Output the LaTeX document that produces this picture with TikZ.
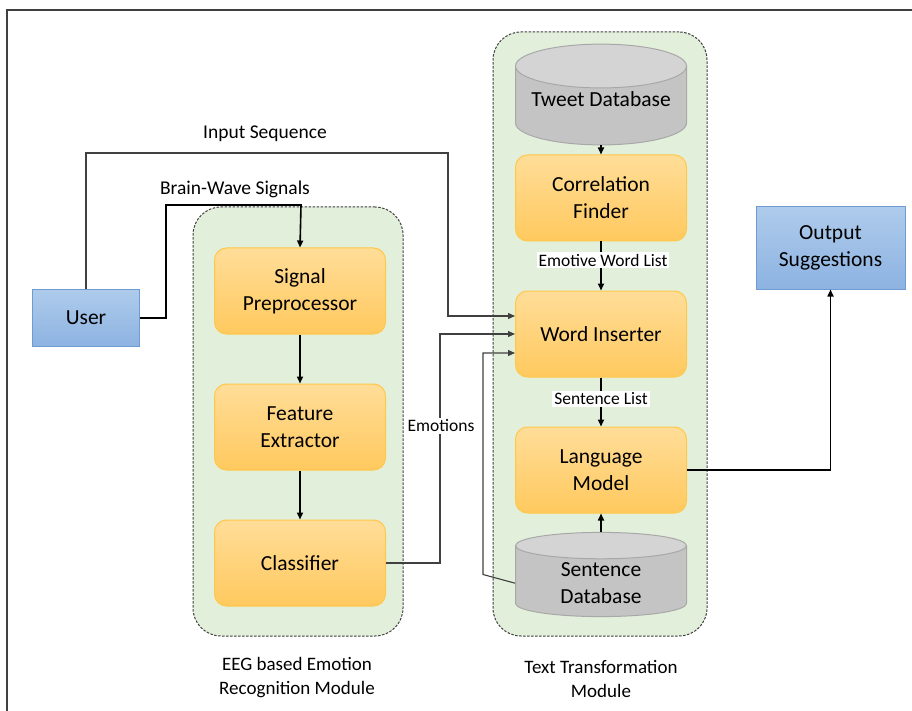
\documentclass[tikz,border=0pt]{standalone}
\usepackage{fontspec}
\setmainfont{Carlito}
\usepackage{xcolor}
\usepackage{tikz}
\usetikzlibrary{shapes.geometric, arrows.meta}

\definecolor{orangetop}{HTML}{FFDD98}
\definecolor{orangebot}{HTML}{FFC95E}
\definecolor{orangeedge}{HTML}{FFC84A}
\definecolor{bluetop}{HTML}{AECBEB}
\definecolor{bluebot}{HTML}{8DB3E2}
\definecolor{blueedge}{HTML}{6E9BD2}
\definecolor{modulegreen}{HTML}{E2EFDA}
\definecolor{dbbody}{HTML}{C4C4C4}
\definecolor{dbtop}{HTML}{D4D4D4}
\definecolor{dbedge}{HTML}{A8A8A8}
\definecolor{thinline}{HTML}{404040}

\begin{document}
\begin{tikzpicture}[x=1pt, y=-1pt, >={Triangle[length=7pt,width=6pt]},
procnode/.style={rounded corners=12pt, draw=orangeedge, line width=1pt, top color=orangetop, bottom color=orangebot, minimum width=171pt, minimum height=86pt, align=center, font=\fontsize{21.5}{27}\selectfont},
ionode/.style={draw=blueedge, line width=1pt, top color=bluetop, bottom color=bluebot, align=center, font=\fontsize{21.5}{27}\selectfont},
dbnode/.style={cylinder, shape border rotate=90, shape aspect=0.3, anchor=shape center, draw=dbedge, line width=1pt, cylinder uses custom fill, cylinder body fill=dbbody, cylinder end fill=dbtop, minimum width=171pt, minimum height=74pt, align=center, font=\fontsize{21.5}{27}\selectfont},
modulebox/.style={rounded corners=28pt, draw=thinline, line width=1pt, dash pattern=on 2.5pt off 1.5pt, fill=modulegreen},
flowlabel/.style={font=\fontsize{19.5}{23}\selectfont},
linklabel/.style={fill=white, inner sep=2pt, font=\fontsize{17.5}{21}\selectfont},
modulelabel/.style={align=center, font=\fontsize{19}{24}\selectfont},
thinarrow/.style={->, thinline, line width=1.1pt},
thickarrow/.style={->, black, line width=1.6pt},
]
\useasboundingbox (0,0) rectangle (912,711);
\draw[thinline, line width=1.2pt] (7,711) -- (7,10) -- (912,10);

%Modules
\node[modulebox, minimum width=210pt, minimum height=429pt] (eegmodule) at (298,421.5) {};
\node[modulebox, minimum width=214pt, minimum height=604pt] (textmodule) at (600,334) {};

%Nodes
\node[ionode, minimum width=107pt, minimum height=57pt] (user) at (86,318) {User};
\node[ionode, minimum width=149pt, minimum height=82pt] (output) at (830.5,248) {Output\\Suggestions};
\node[procnode] (sigpre) at (300,291) {Signal\\Preprocessor};
\node[procnode] (featext) at (300,427) {Feature\\Extractor};
\node[procnode] (classifier) at (300,563) {Classifier};
\node[dbnode, text depth=19pt] (tweetdb) at (601,94.5) {Tweet Database};
\node[procnode] (corrfinder) at (601,198) {Correlation\\Finder};
\node[procnode] (inserter) at (601,334) {Word Inserter};
\node[procnode] (langmodel) at (601,470) {Language\\Model};
\node[dbnode] (sentdb) at (601,574.5) {Sentence\\Database};

%Lines
\draw[thinarrow] (user.north) |- (448,153) |- ([yshift=18pt]inserter.west);
\draw[thickarrow] (user.east) -- (166,318) |- (301,205) -- (sigpre.north);
\draw[thickarrow] (sigpre.south) -- (featext.north);
\draw[thickarrow] (featext.south) -- (classifier.north);
\draw[thinarrow] (classifier.east) -- (440,563) |- (inserter.west);
\draw[thinarrow] (sentdb.west) -- (483,574.5) |- ([yshift=-19pt]inserter.west);
\draw[thickarrow] (tweetdb.south) -- (corrfinder.north);
\draw[thickarrow] (corrfinder.south) -- (inserter.north);
\draw[thickarrow] (inserter.south) -- (langmodel.north);
\draw[thickarrow] (sentdb.north) -- (langmodel.south);
\draw[thickarrow] (langmodel.east) -| (output.south);

%Labels
\node[flowlabel] (inputlbl) at (265,134) {Input Sequence};
\node[flowlabel] (brainlbl) at (235,189) {Brain-Wave Signals};
\node[linklabel] (emolbl) at (441,426) {Emotions};
\node[linklabel] (wordlistlbl) at (603,260) {Emotive Word List};
\node[linklabel] (sentlistlbl) at (601,399) {Sentence List};
\node[modulelabel] (eeglbl) at (297,678) {EEG based Emotion\\Recognition Module};
\node[modulelabel] (textlbl) at (601,679) {Text Transformation\\Module};
\end{tikzpicture}
\end{document}
